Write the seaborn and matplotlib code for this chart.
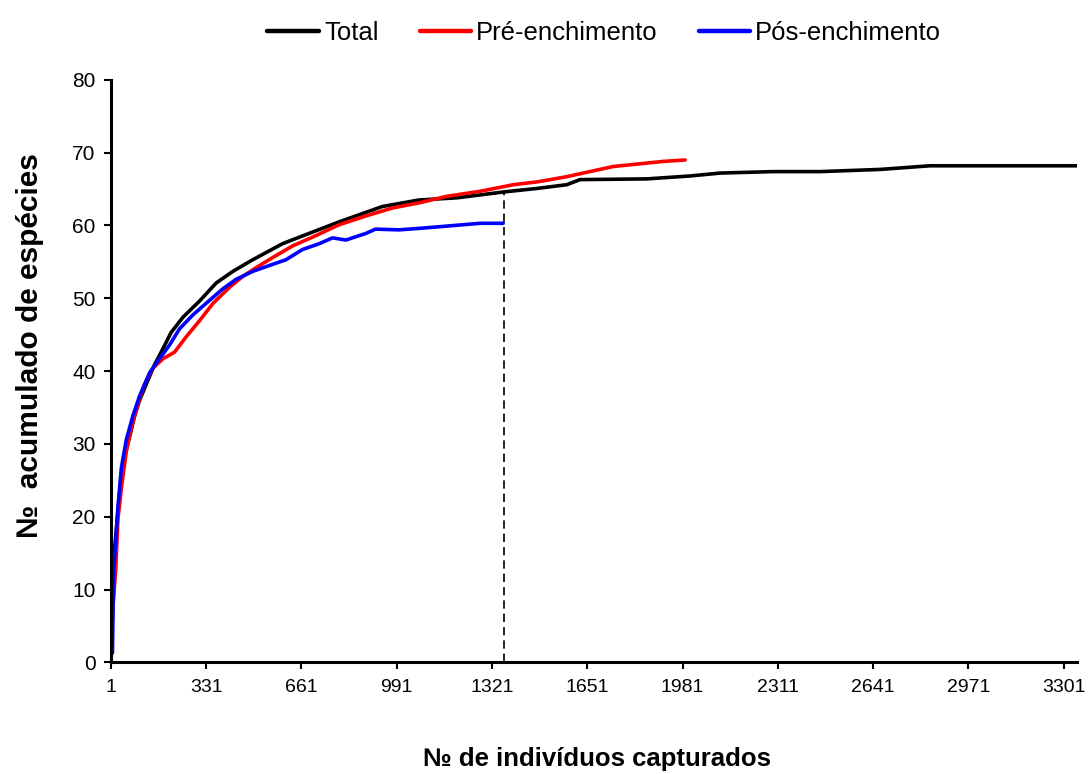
import matplotlib
matplotlib.use("Agg")
import matplotlib.pyplot as plt
import numpy as np
import pandas as pd
import seaborn as sns

# Species accumulation curves: cumulative species vs. individuals captured
total_x = [1, 3, 7, 15, 26, 38, 49, 67, 84, 101, 124, 153, 182, 210, 251, 308, 366, 424,
           493, 596, 700, 792, 941, 1068, 1200, 1360, 1480, 1580, 1626, 1857, 2007, 2111,
           2294, 2457, 2665, 2838, 3346]
total_y = [1, 1.3, 9.4, 15.9, 20.8, 25.7, 28.4, 31.1, 33.9, 36.0, 38.2, 40.9, 43.1, 45.3,
           47.4, 49.6, 52.1, 53.7, 55.3, 57.5, 59.1, 60.5, 62.6, 63.5, 63.8, 64.6, 65.1,
           65.6, 66.3, 66.4, 66.8, 67.2, 67.4, 67.4, 67.7, 68.2, 68.2]

pre_x = [1, 7, 18, 26, 38, 55, 72, 95, 118, 147, 182, 222, 262, 308, 355, 412, 458, 504,
         562, 631, 711, 792, 884, 976, 1068, 1164, 1280, 1395, 1480, 1580, 1660, 1741,
         1840, 1914, 1990]
pre_y = [1, 6.7, 12.7, 19.7, 24.0, 29.0, 32.2, 35.5, 38.2, 40.4, 41.7, 42.6, 44.7, 46.9,
         49.3, 51.5, 53.0, 54.2, 55.6, 57.2, 58.6, 60.1, 61.3, 62.4, 63.1, 64.0, 64.7,
         65.6, 66.0, 66.7, 67.4, 68.1, 68.5, 68.8, 69.0]

pos_x = [1, 7, 11, 18, 26, 38, 55, 78, 101, 136, 170, 205, 239, 285, 331, 389, 435, 493,
         550, 608, 665, 723, 769, 815, 884, 918, 999, 1068, 1130, 1280, 1360]
pos_y = [1, 1.3, 12.7, 16.5, 21.4, 26.8, 30.6, 33.9, 36.6, 39.8, 41.7, 43.6, 45.8, 47.7,
         49.3, 51.3, 52.6, 53.7, 54.5, 55.3, 56.7, 57.5, 58.3, 58.0, 58.9, 59.5, 59.4,
         59.6, 59.8, 60.3, 60.3]

series_names = ["Total", "Pré-enchimento", "Pós-enchimento"]
series_colors = ["#000000", "#FF0000", "#0000FF"]

# sample size of the post-filling period, marked with a dashed line
cutoff_x = 1362
cutoff_top = 64.6

x_ticks = [1, 331, 661, 991, 1321, 1651, 1981, 2311, 2641, 2971, 3301]
y_ticks = [0, 10, 20, 30, 40, 50, 60, 70, 80]
x_max = 3346

sns.set_theme(style="white")
plt.rcParams["font.family"] = ["Liberation Sans", "DejaVu Sans"]
plt.rcParams["text.color"] = "black"
plt.rcParams["axes.labelcolor"] = "black"
plt.rcParams["xtick.color"] = "black"
plt.rcParams["ytick.color"] = "black"

df = pd.concat([
    pd.DataFrame({"x": total_x, "y": total_y, "serie": series_names[0]}),
    pd.DataFrame({"x": pre_x, "y": pre_y, "serie": series_names[1]}),
    pd.DataFrame({"x": pos_x, "y": pos_y, "serie": series_names[2]}),
], ignore_index=True)

fig = plt.figure(figsize=(10.89, 7.74), dpi=100)
ax = fig.add_axes([0.1017, 0.1443, 0.887, 0.7525])

sns.lineplot(data=df, x="x", y="y", hue="serie", hue_order=series_names,
             palette=dict(zip(series_names, series_colors)), estimator=None,
             sort=False, linewidth=2.6, ax=ax, legend=True)

ax.plot([cutoff_x, cutoff_x], [0, cutoff_top], color="black", linestyle=(0, (5, 3)),
        linewidth=1.2, zorder=1)

ax.set_xlim(1, x_max)
ax.set_ylim(0, 80)
ax.set_xticks(x_ticks)
ax.set_yticks(y_ticks)
ax.tick_params(axis="both", which="major", direction="out", length=5, width=1.5,
               color="black", labelcolor="black", bottom=True, left=True)
ax.tick_params(axis="x", labelsize=14, pad=7)
ax.tick_params(axis="y", labelsize=15, pad=6)
for side in ["top", "right"]:
    ax.spines[side].set_visible(False)
for side in ["left", "bottom"]:
    ax.spines[side].set_color("black")
    ax.spines[side].set_linewidth(2.2)
ax.grid(False)
ax.set_xlabel("")
ax.set_ylabel("")

handles, labels = ax.get_legend_handles_labels()
ax.get_legend().remove()
for h in handles:
    h.set_linewidth(3.2)
fig.legend(handles, labels, loc="upper center", bbox_to_anchor=(0.555, 1.003), ncol=3,
           frameon=False, fontsize=18.5, handlelength=2.0, handletextpad=0.2,
           columnspacing=1.6)

fig.text(0.548, 0.004, "№ de indivíduos capturados", ha="center", va="bottom",
         fontsize=18.5, fontweight="bold")
fig.text(0.028, 0.554, "№  acumulado de espécies", ha="center", va="center",
         rotation=90, fontsize=21.5, fontweight="bold")

fig.savefig("out.png", dpi=100, facecolor="white")
